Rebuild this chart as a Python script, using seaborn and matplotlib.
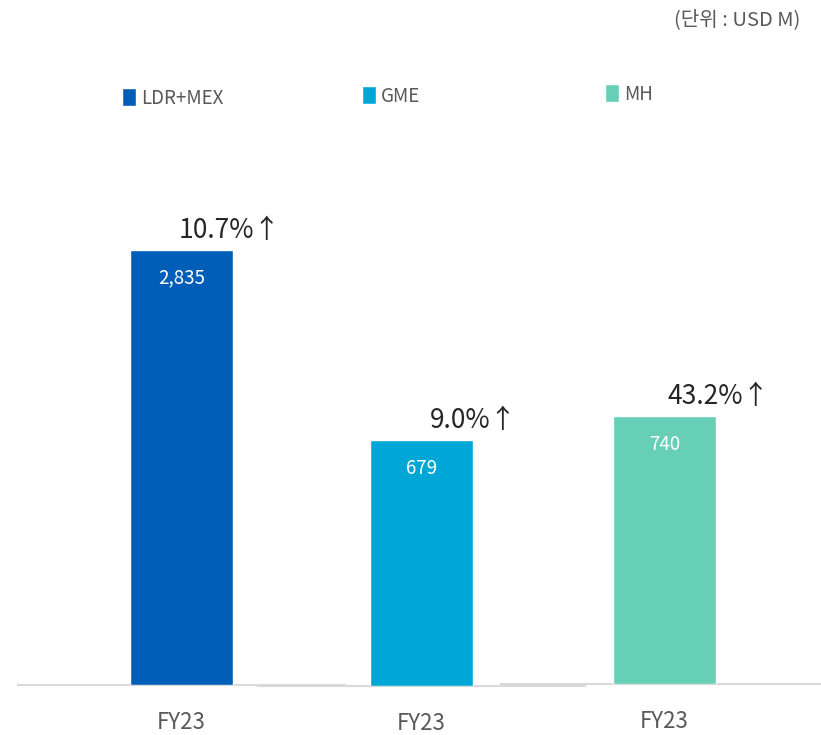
import matplotlib
matplotlib.use("Agg")
import matplotlib.pyplot as plt
import seaborn as sns
import pandas as pd
from matplotlib.patches import Patch

# 데이터
segments = ["LDR+MEX", "GME", "MH"]
periods = ["FY23", "FY23", "FY23"]
revenue = [2835, 679, 740]
growth = ["10.7%", "9.0%", "43.2%"]
colors = ["#005EB8", "#00A7D6", "#66CFB5"]

sns.set_theme(style="white")
plt.rcParams["font.family"] = ["Noto Sans CJK KR", "DejaVu Sans"]

W, H = 821, 735
fig = plt.figure(figsize=(W / 100, H / 100), dpi=100)

# 각 패널 위치 (px): left, baseline, y축 상한
panel_left = [18, 258, 501]
panel_base = [684.5, 685.5, 683.5]
panel_ymax = [3680, 1566, 1560]
legend_y = [98, 96, 94]
growth_dx = [-2, 6, 2]
panel_w = 327
panel_top = 120

for i in range(3):
    ax = fig.add_axes([panel_left[i] / W, 1 - panel_base[i] / H,
                       panel_w / W, (panel_base[i] - panel_top) / H])
    df = pd.DataFrame({"period": [periods[i]], "value": [revenue[i]]})
    sns.barplot(data=df, x="period", y="value", color=colors[i],
                width=0.315, saturation=1, ax=ax, zorder=3)
    ax.set_xlim(-0.5, 0.5)
    ax.set_ylim(0, panel_ymax[i])
    ax.set_xlabel("")
    ax.set_ylabel("")
    ax.set_yticks([])
    for s in ["top", "left", "right"]:
        ax.spines[s].set_visible(False)
    ax.spines["bottom"].set_color("#d9d9d9")
    ax.spines["bottom"].set_linewidth(1.5)
    ax.spines["bottom"].set_zorder(2)
    ax.tick_params(axis="x", length=0, pad=19, labelsize=16, labelcolor="#595959")
    ax.patch.set_alpha(0)

    # 값 라벨 (막대 안)
    v = revenue[i]
    ax.annotate(f"{v:,}", (0, v), xytext=(0, -20.5), textcoords="offset points",
                ha="center", va="center", color="white", fontsize=13.5)
    # 성장률 라벨
    ax.annotate(f"{growth[i]}↑", (0, v), xytext=(growth_dx[i], 14), textcoords="offset points",
                ha="left", va="center", color="#262626", fontsize=19)

    ax.legend(handles=[Patch(facecolor=colors[i])], labels=[segments[i]],
              loc="center left", bbox_to_anchor=((panel_left[i] + 104) / W, 1 - legend_y[i] / H),
              bbox_transform=fig.transFigure, frameon=False, fontsize=13.5,
              handlelength=0.75, handleheight=1.05, handletextpad=0.25,
              borderpad=0, borderaxespad=0, labelcolor="#595959")

fig.text(800 / W, 1 - 20 / H, "(단위 : USD M)", ha="right", va="center",
         fontsize=14.5, color="#595959")

fig.savefig("out.png", dpi=100)
